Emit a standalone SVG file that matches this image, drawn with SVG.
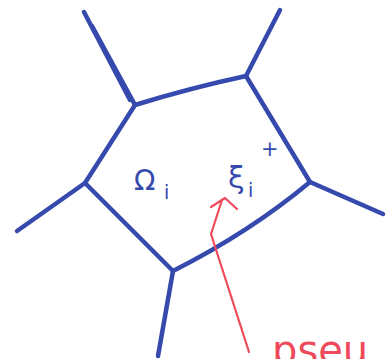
<svg xmlns="http://www.w3.org/2000/svg" width="387" height="359" viewBox="0 0 387 359">
<style>
.edge{fill:none;stroke:#3649ad;stroke-width:4.5;stroke-linecap:round;stroke-linejoin:round}
.lbl{fill:#3649ad;font-family:"DejaVu Sans",sans-serif}
.red{fill:none;stroke:#ee4a5c;stroke-width:2.2;stroke-linecap:round;stroke-linejoin:round}
.redt{fill:#ee4a5c;font-family:"DejaVu Sans",sans-serif}
</style>
<rect width="387" height="359" fill="#ffffff"/>
<g id="cell">
<path class="edge" d="M135,105 Q190,88 246,76 L310,182 Q250,232 173,271 L85,183 Z"/>
</g>
<g id="connectors">
<path class="edge" d="M135,105 L92,26"/>
<path class="edge" d="M130,100 L84,12"/>
<path class="edge" d="M246,76 L280,10"/>
<path class="edge" d="M310,182 L383,214"/>
<path class="edge" d="M173,271 L158,356"/>
<path class="edge" d="M85,183 L17,231"/>
<path class="red" d="M249,352 L211,234 L222,200"/>
<path class="red" d="M211,207 L225,198 L237,209"/>
</g>
<g id="labels">
<text class="lbl" x="134" y="190" font-size="28">Ω</text>
<text class="lbl" x="164" y="199" font-size="19">i</text>
<text class="lbl" x="228" y="188" font-size="30">ξ</text>
<text class="lbl" x="248" y="197" font-size="19">i</text>
<text class="lbl" x="261" y="156" font-size="21">+</text>
<text class="redt" x="272" y="364" font-size="40">pseu</text>
</g>
</svg>
